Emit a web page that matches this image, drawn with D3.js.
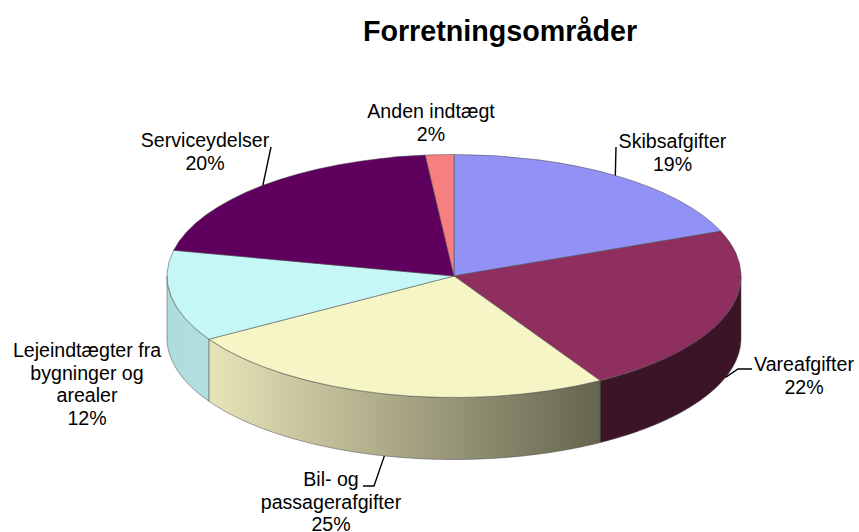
<!DOCTYPE html>
<html>
<head>
<meta charset="utf-8">
<script src="https://cdn.jsdelivr.net/npm/d3@7"></script>
<style>
	body { margin: 0; background: #fff; }
	svg { display: block; }
	text { font-family: "Liberation Sans", Arial, sans-serif; fill: #000; }
</style>
</head>
<body>
<script>

var categories = ['Skibsafgifter', 'Vareafgifter', 'Bil- og passagerafgifter', 'Lejeindtægter fra bygninger og arealer', 'Serviceydelser', 'Anden indtægt'];
var values = [19.0, 22.5, 24.8, 12.1, 20.0, 1.6];
var percentLabels = ['19%', '22%', '25%', '12%', '20%', '2%'];
var chartTitle = 'Forretningsområder';

var width = 859,
	height = 532,
	cx = 454,
	cy = 276,
	rx = 287,
	ry = 121.5,
	depth = 62;

var topColors = ['#9191f6', '#8f2f5f', '#f5f5c6', '#c6f7f7', '#5f005f', '#f77f7f'];
// wall gradient stops for each slice (left, right)
var wallColors = [['#6b6bb5', '#6b6bb5'], ['#3b1428', '#3b1428'], ['#e8e4b8', '#65654f'], ['#aedcdc', '#b2dede'], ['#3d003d', '#3d003d'], ['#b55d5d', '#b55d5d']];

// label placement: centre x, first baseline, wrapped lines, leader elbow points
var labelLayout = [
	{x: 672.5, y: 148, lines: ['Skibsafgifter'], leader: [[616, 147]]},
	{x: 804, y: 371, lines: ['Vareafgifter'], leader: [[752, 369], [738, 369]]},
	{x: 331, y: 486, lines: ['Bil- og', 'passagerafgifter'], leader: [[363, 486], [374, 486]]},
	{x: 87, y: 357, lines: ['Lejeindtægter fra', 'bygninger og', 'arealer'], leader: null},
	{x: 205, y: 147, lines: ['Serviceydelser'], leader: [[271, 147]]},
	{x: 431, y: 118, lines: ['Anden indtægt'], leader: null}
];

var svg = d3.select('body').append('svg')
			.attr('width', width)
			.attr('height', height);

var defs = svg.append('defs');

var arcs = d3.pie().sort(null).value(function(d){return d;})(values);

function px(a){ return cx + rx * Math.sin(a); }
function py(a){ return cy - ry * Math.cos(a); }

var wall = d3.area()
	.x(function(a){return px(a);})
	.y0(function(a){return py(a);})
	.y1(function(a){return py(a) + depth;});

// side walls, only the front half of the pie shows
arcs.forEach(function(d, i){
	var a0 = Math.max(d.startAngle, Math.PI / 2),
		a1 = Math.min(d.endAngle, Math.PI * 1.5);
	if (a0 >= a1) return;

	var samples = d3.range(a0, a1, 0.01).concat([a1]);
	var grad = defs.append('linearGradient')
		.attr('id', 'wall' + i)
		.attr('gradientUnits', 'userSpaceOnUse')
		.attr('x1', d3.min(samples, px))
		.attr('x2', d3.max(samples, px))
		.attr('y1', 0)
		.attr('y2', 0);
	grad.append('stop').attr('offset', 0).attr('stop-color', wallColors[i][0]);
	grad.append('stop').attr('offset', 1).attr('stop-color', wallColors[i][1]);

	svg.append('path')
		.attr('d', wall(samples))
		.attr('fill', 'url(#wall' + i + ')')
		.attr('stroke', '#4a4a4a')
		.attr('stroke-width', 0.7)
		.attr('stroke-opacity', 0.75);
});

var arc = d3.arc().innerRadius(0).outerRadius(1);

svg.append('g')
	.attr('transform', 'translate(' + cx + ',' + cy + ') scale(' + rx + ',' + ry + ')')
	.selectAll('path')
	.data(arcs)
	.enter().append('path')
	.attr('d', arc)
	.attr('fill', function(d, i){return topColors[i];})
	.attr('stroke', '#4a4a4a')
	.attr('stroke-width', 0.7)
	.attr('stroke-opacity', 0.75)
	.attr('vector-effect', 'non-scaling-stroke');

// leader lines
var leaderLine = d3.line().curve(d3.curveLinear);

arcs.forEach(function(d, i){
	var layout = labelLayout[i];
	if (!layout.leader) return;
	var mid = (d.startAngle + d.endAngle) / 2;
	var front = Math.cos(mid) < 0;
	var anchor = [px(mid), py(mid) + (front ? depth : 0)];
	svg.append('path')
		.attr('d', leaderLine(layout.leader.concat([anchor])))
		.attr('fill', 'none')
		.attr('stroke', '#000')
		.attr('stroke-width', 1.4);
});

// labels
labelLayout.forEach(function(layout, i){
	var t = svg.append('text')
		.attr('text-anchor', 'middle')
		.attr('font-size', 19.6);
	layout.lines.concat([percentLabels[i]]).forEach(function(line, j){
		t.append('tspan')
			.attr('x', layout.x)
			.attr('y', layout.y + j * 22.5)
			.text(line);
	});
});

svg.append('text')
	.attr('x', 500)
	.attr('y', 41)
	.attr('text-anchor', 'middle')
	.attr('font-size', 28.7)
	.attr('font-weight', 'bold')
	.text(chartTitle);

</script>
</body>
</html>
